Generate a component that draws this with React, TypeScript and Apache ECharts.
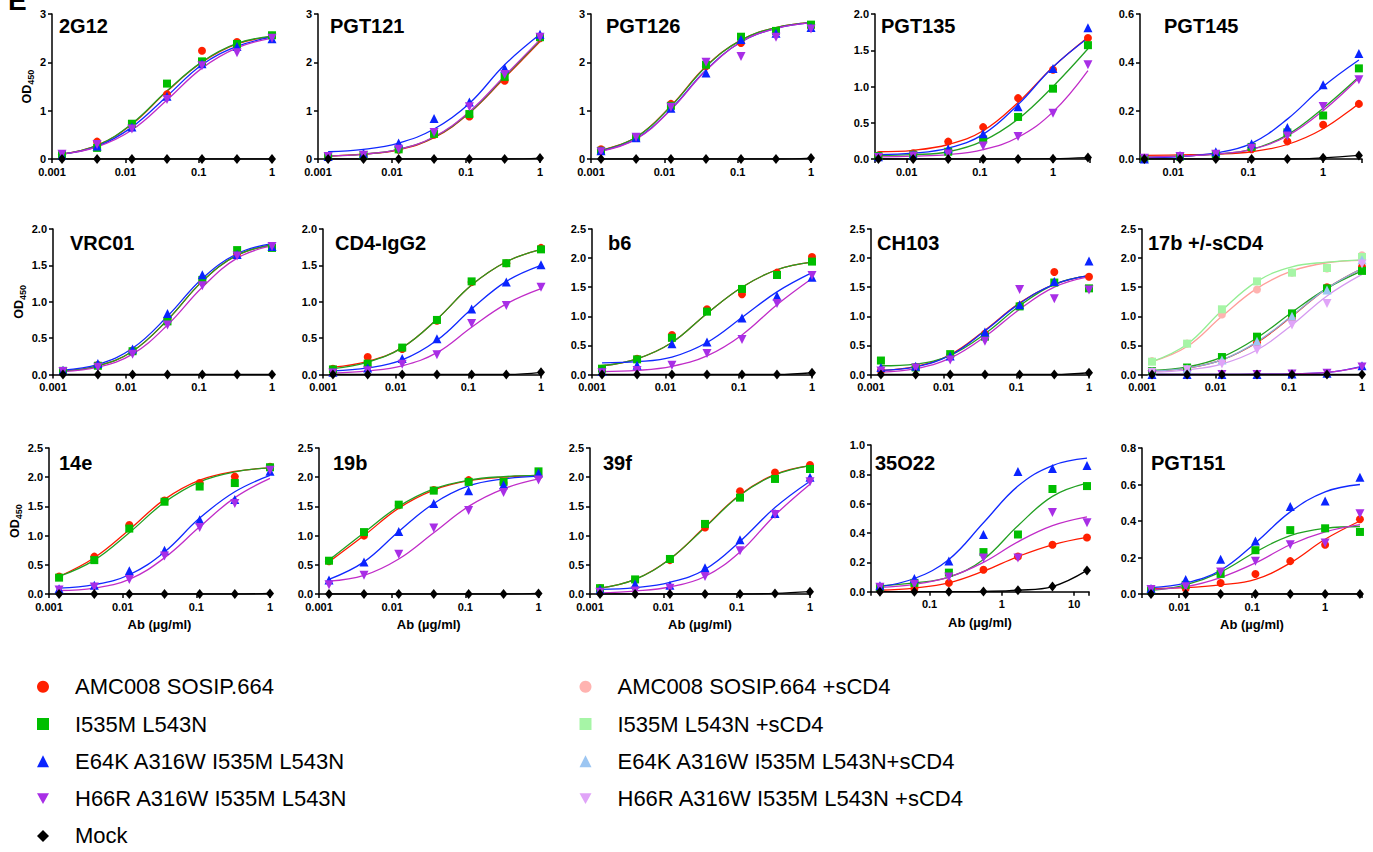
import React, { useEffect, useRef } from "react";
import * as echarts from "echarts";

// ---------- names ----------
const BASE_NAMES = [
  "AMC008 SOSIP.664",
  "I535M L543N",
  "E64K A316W I535M L543N",
  "H66R A316W I535M L543N",
  "Mock",
];
const SCD4_NAMES = [
  "AMC008 SOSIP.664 +sCD4",
  "I535M L543N +sCD4",
  "E64K A316W I535M L543N+sCD4",
  "H66R A316W I535M L543N +sCD4",
];

// ---------- doses (µg/ml, 3-fold dilutions) ----------
const DOSE_1 = [0.00137, 0.00412, 0.0123, 0.037, 0.111, 0.333, 1];
const DOSE_3 = [0.00412, 0.0123, 0.037, 0.111, 0.333, 1, 3];
const DOSE_15 = [0.0206, 0.0617, 0.185, 0.556, 1.667, 5, 15];

// ---------- measured points / fitted curve values [red, green, blue, purple, mock, (pink, lgreen, lblue, lpurple)] ----------
const PTS_2G12 = [
  [0.1, 0.36, 0.7, 1.34, 2.24, 2.42, 2.55],
  [0.08, 0.23, 0.73, 1.56, 2.02, 2.38, 2.56],
  [0.07, 0.27, 0.66, 1.3, 1.97, 2.33, 2.49],
  [0.1, 0.3, 0.62, 1.23, 1.93, 2.2, 2.5],
  [0, 0, 0, 0, 0, 0, 0],
];
const FIT_2G12 = [
  [0.1, 0.28, 0.72, 1.4, 2.0, 2.38, 2.53],
  [0.1, 0.28, 0.73, 1.41, 2.01, 2.39, 2.54],
  [0.1, 0.26, 0.66, 1.3, 1.95, 2.33, 2.52],
  [0.1, 0.25, 0.6, 1.22, 1.88, 2.3, 2.5],
  [0, 0, 0, 0, 0, 0, 0],
];
const PTS_PGT121 = [
  [0.05, 0.08, 0.19, 0.5, 0.88, 1.62, 2.5],
  [0.05, 0.08, 0.2, 0.52, 0.93, 1.7, 2.52],
  [0.05, 0.12, 0.33, 0.84, 1.18, 1.88, 2.58],
  [0.05, 0.08, 0.2, 0.55, 1.08, 1.75, 2.52],
  [0, 0, 0, 0, 0, 0, 0.02],
];
const FIT_PGT121 = [
  [0.06, 0.1, 0.19, 0.44, 0.95, 1.68, 2.43],
  [0.06, 0.1, 0.2, 0.45, 0.96, 1.7, 2.45],
  [0.15, 0.2, 0.33, 0.62, 1.15, 1.95, 2.58],
  [0.06, 0.1, 0.2, 0.46, 0.98, 1.72, 2.47],
  [0, 0, 0, 0, 0, 0, 0.02],
];
const PTS_PGT126 = [
  [0.2, 0.45, 1.14, 1.92, 2.4, 2.62, 2.73],
  [0.17, 0.45, 1.1, 1.95, 2.53, 2.65, 2.78],
  [0.17, 0.44, 1.05, 1.78, 2.47, 2.6, 2.72],
  [0.15, 0.45, 1.07, 2.0, 2.12, 2.52, 2.69],
  [0, 0, 0, 0, 0, 0, 0.02],
];
const FIT_PGT126 = [
  [0.18, 0.45, 1.1, 1.92, 2.46, 2.72, 2.82],
  [0.18, 0.45, 1.09, 1.91, 2.46, 2.72, 2.82],
  [0.17, 0.42, 1.03, 1.84, 2.42, 2.7, 2.82],
  [0.16, 0.41, 1.02, 1.83, 2.42, 2.7, 2.82],
  [0, 0, 0, 0, 0, 0, 0.02],
];
const PTS_PGT135 = [
  [0.05, 0.08, 0.24, 0.44, 0.84, 1.23, 1.67],
  [0.04, 0.06, 0.1, 0.27, 0.58, 0.97, 1.57],
  [0.03, 0.06, 0.14, 0.35, 0.72, 1.25, 1.81],
  [0.02, 0.04, 0.07, 0.18, 0.31, 0.63, 1.3],
  [0, 0, 0, 0, 0, 0.005, 0.02],
];
const FIT_PGT135 = [
  [0.1, 0.12, 0.2, 0.39, 0.78, 1.27, 1.68],
  [0.05, 0.06, 0.1, 0.25, 0.55, 1.0, 1.52],
  [0.06, 0.08, 0.15, 0.34, 0.75, 1.27, 1.67],
  [0.03, 0.04, 0.06, 0.13, 0.3, 0.65, 1.22],
  [0, 0, 0, 0, 0, 0.005, 0.02],
];
const PTS_PGT145 = [
  [0.005, 0.01, 0.02, 0.04, 0.073, 0.142, 0.228],
  [0.003, 0.01, 0.02, 0.05, 0.11, 0.18, 0.375],
  [0, 0.015, 0.03, 0.063, 0.13, 0.307, 0.437],
  [0.003, 0.01, 0.02, 0.045, 0.095, 0.217, 0.328],
  [0, 0, 0, 0, 0, 0.005, 0.015],
];
const FIT_PGT145 = [
  [0.015, 0.017, 0.02, 0.03, 0.06, 0.125, 0.23],
  [0.008, 0.012, 0.02, 0.04, 0.1, 0.21, 0.34],
  [0.005, 0.01, 0.025, 0.065, 0.165, 0.3, 0.41],
  [0.008, 0.012, 0.02, 0.04, 0.095, 0.2, 0.335],
  [0, 0, 0, 0, 0, 0.005, 0.015],
];
const PTS_VRC01 = [
  [0.05, 0.13, 0.33, 0.77, 1.27, 1.66, 1.75],
  [0.05, 0.12, 0.32, 0.73, 1.3, 1.71, 1.74],
  [0.06, 0.15, 0.35, 0.84, 1.37, 1.65, 1.76],
  [0.04, 0.1, 0.28, 0.68, 1.22, 1.63, 1.76],
  [0, 0, 0, 0, 0, 0, 0],
];
const FIT_VRC01 = [
  [0.05, 0.12, 0.32, 0.75, 1.28, 1.64, 1.78],
  [0.05, 0.12, 0.32, 0.75, 1.28, 1.64, 1.78],
  [0.06, 0.14, 0.36, 0.8, 1.32, 1.66, 1.8],
  [0.04, 0.1, 0.28, 0.68, 1.2, 1.6, 1.77],
  [0, 0, 0, 0, 0, 0, 0],
];
const PTS_CD4IGG2 = [
  [0.08, 0.24, 0.35, 0.74, 1.27, 1.53, 1.74],
  [0.07, 0.15, 0.37, 0.75, 1.28, 1.53, 1.72],
  [0.03, 0.09, 0.22, 0.49, 0.9, 1.27, 1.51],
  [0.02, 0.05, 0.14, 0.27, 0.7, 0.95, 1.2],
  [0, 0, 0, 0, 0, 0, 0.03],
];
const FIT_CD4IGG2 = [
  [0.1, 0.18, 0.37, 0.76, 1.23, 1.55, 1.72],
  [0.08, 0.17, 0.37, 0.76, 1.23, 1.55, 1.72],
  [0.05, 0.09, 0.2, 0.47, 0.9, 1.28, 1.5],
  [0.02, 0.05, 0.12, 0.3, 0.65, 0.97, 1.18],
  [0, 0, 0, 0, 0, 0, 0.03],
];
const PTS_B6 = [
  [0.1, 0.27, 0.68, 1.12, 1.38, 1.75, 2.02],
  [0.1, 0.26, 0.63, 1.08, 1.47, 1.71, 1.94],
  [0.05, 0.16, 0.53, 0.56, 0.97, 1.35, 1.67],
  [0.03, 0.07, 0.16, 0.36, 0.6, 1.22, 1.7],
  [0, 0, 0, 0, 0, 0, 0.03],
];
const FIT_B6 = [
  [0.15, 0.27, 0.55, 1.05, 1.5, 1.8, 1.93],
  [0.15, 0.27, 0.55, 1.05, 1.5, 1.8, 1.93],
  [0.2, 0.22, 0.3, 0.55, 0.98, 1.42, 1.75],
  [0.05, 0.07, 0.14, 0.32, 0.68, 1.2, 1.65],
  [0, 0, 0, 0, 0, 0, 0.03],
];
const PTS_CH103 = [
  [0.07, 0.13, 0.33, 0.7, 1.18, 1.76, 1.68],
  [0.24, 0.12, 0.35, 0.65, 1.17, 1.58, 1.48],
  [0.12, 0.14, 0.32, 0.73, 1.2, 1.6, 1.95],
  [0.06, 0.11, 0.25, 0.57, 1.46, 1.3, 1.45],
  [0, 0, 0, 0, 0, 0, 0.03],
];
const FIT_CH103 = [
  [0.07, 0.14, 0.34, 0.76, 1.23, 1.55, 1.7],
  [0.15, 0.18, 0.33, 0.7, 1.18, 1.55, 1.7],
  [0.07, 0.13, 0.33, 0.75, 1.22, 1.55, 1.7],
  [0.04, 0.1, 0.28, 0.65, 1.12, 1.5, 1.68],
  [0, 0, 0, 0, 0, 0, 0.03],
];
const PTS_17B = [
  [0.05, 0.1, 0.25, 0.55, 0.95, 1.5, 1.85],
  [0.06, 0.12, 0.3, 0.65, 1.05, 1.48, 1.78],
  [0, 0, 0, 0, 0.01, 0.02, 0.15],
  [0, 0, 0, 0, 0.01, 0.02, 0.13],
  [0, 0, 0, 0, 0, 0, 0],
  [0.23, 0.53, 1.03, 1.46, 1.75, 1.82, 2.05],
  [0.22, 0.53, 1.12, 1.6, 1.75, 1.83, 2.02],
  [0.05, 0.1, 0.25, 0.57, 1.0, 1.45, 1.97],
  [0.04, 0.08, 0.18, 0.42, 0.85, 1.22, 1.9],
];
const FIT_17B = [
  [0.06, 0.11, 0.25, 0.55, 1.0, 1.48, 1.82],
  [0.07, 0.13, 0.3, 0.63, 1.07, 1.48, 1.78],
  [0, 0, 0.002, 0.005, 0.012, 0.035, 0.14],
  [0, 0, 0.002, 0.005, 0.012, 0.035, 0.13],
  [0, 0, 0, 0, 0, 0, 0],
  [0.22, 0.48, 1.0, 1.48, 1.78, 1.92, 1.96],
  [0.22, 0.52, 1.1, 1.6, 1.85, 1.93, 1.97],
  [0.06, 0.11, 0.25, 0.56, 1.01, 1.48, 1.82],
  [0.04, 0.08, 0.18, 0.42, 0.85, 1.35, 1.72],
];
const PTS_14E = [
  [0.3, 0.64, 1.18, 1.6, 1.9, 2.01, 2.18],
  [0.28, 0.58, 1.12, 1.58, 1.84, 1.9, 2.17],
  [0.09, 0.15, 0.4, 0.75, 1.27, 1.62, 2.1],
  [0.07, 0.12, 0.25, 0.65, 1.14, 1.55, 2.12],
  [0, 0, 0, 0, 0, 0, 0.01],
];
const FIT_14E = [
  [0.3, 0.62, 1.1, 1.62, 1.95, 2.1, 2.16],
  [0.3, 0.58, 1.05, 1.57, 1.92, 2.09, 2.16],
  [0.1, 0.16, 0.33, 0.72, 1.3, 1.75, 2.03],
  [0.06, 0.1, 0.25, 0.62, 1.15, 1.65, 1.98],
  [0, 0, 0, 0, 0, 0, 0.01],
];
const PTS_19B = [
  [0.56, 1.0, 1.52, 1.78, 1.95, 1.9, 2.02],
  [0.57, 1.06, 1.53, 1.77, 1.92, 1.92, 2.1],
  [0.24, 0.55, 1.07, 1.55, 1.77, 1.87, 2.07],
  [0.16, 0.32, 0.68, 1.13, 1.43, 1.74, 1.95],
  [0, 0, 0, 0, 0, 0, 0.01],
];
const FIT_19B = [
  [0.55, 1.0, 1.47, 1.78, 1.94, 2.0, 2.03],
  [0.58, 1.05, 1.5, 1.8, 1.95, 2.01, 2.03],
  [0.25, 0.55, 1.07, 1.55, 1.85, 1.97, 2.02],
  [0.22, 0.32, 0.6, 1.05, 1.5, 1.8, 1.97],
  [0, 0, 0, 0, 0, 0, 0.01],
];
const PTS_39F = [
  [0.1, 0.24, 0.58, 1.14, 1.76, 2.08, 2.21],
  [0.1, 0.25, 0.6, 1.2, 1.65, 1.97, 2.14],
  [0.08, 0.17, 0.15, 0.45, 0.93, 1.38, 2.0],
  [0.03, 0.05, 0.1, 0.3, 0.74, 1.36, 1.92],
  [0, 0, 0, 0, 0, 0.01, 0.04],
];
const FIT_39F = [
  [0.1, 0.25, 0.6, 1.15, 1.7, 2.05, 2.2],
  [0.1, 0.25, 0.6, 1.14, 1.69, 2.04, 2.2],
  [0.08, 0.11, 0.2, 0.42, 0.9, 1.48, 1.93],
  [0.02, 0.05, 0.12, 0.3, 0.72, 1.35, 1.88],
  [0, 0, 0, 0, 0, 0.01, 0.04],
];
const PTS_35O22 = [
  [0.01, 0.02, 0.06, 0.15, 0.24, 0.32, 0.37],
  [0.03, 0.06, 0.13, 0.27, 0.39, 0.7, 0.72],
  [0.04, 0.09, 0.21, 0.39, 0.82, 0.84, 0.86],
  [0.03, 0.05, 0.1, 0.23, 0.23, 0.54, 0.47],
  [0, 0, 0, 0.002, 0.01, 0.035, 0.145],
];
const FIT_35O22 = [
  [0.01, 0.025, 0.06, 0.14, 0.24, 0.32, 0.37],
  [0.04, 0.06, 0.1, 0.22, 0.45, 0.65, 0.74],
  [0.035, 0.09, 0.22, 0.47, 0.72, 0.86, 0.91],
  [0.03, 0.05, 0.1, 0.2, 0.34, 0.45, 0.51],
  [0, 0, 0, 0.002, 0.01, 0.035, 0.145],
];
const PTS_PGT151 = [
  [0.015, 0.03, 0.06, 0.11, 0.18, 0.27, 0.41],
  [0.02, 0.05, 0.11, 0.24, 0.35, 0.36, 0.34],
  [0.03, 0.08, 0.19, 0.29, 0.48, 0.51, 0.64],
  [0.025, 0.04, 0.12, 0.18, 0.27, 0.28, 0.44],
  [0, 0, 0, 0, 0, 0, 0],
];
const FIT_PGT151 = [
  [0.03, 0.035, 0.05, 0.08, 0.17, 0.3, 0.4],
  [0.02, 0.05, 0.12, 0.23, 0.32, 0.36, 0.37],
  [0.035, 0.06, 0.13, 0.28, 0.45, 0.56, 0.6],
  [0.025, 0.04, 0.09, 0.17, 0.27, 0.34, 0.38],
  [0, 0, 0, 0, 0, 0, 0],
];

// ---------- styling ----------
const FONT = "'Liberation Sans', Arial, Helvetica, sans-serif";
const MARKER_COLORS = ["#FF2000", "#00BE00", "#0A24FF", "#A82EE6", "#000000", "#FFB3B0", "#A6F5A6", "#9CC6F2", "#E0A4F8"];
const LINE_COLORS = ["#FF1A00", "#22A022", "#1028FF", "#C02CC8", "#000000", "#FF9E9A", "#94EE94", "#8AAFD8", "#D69AF0"];
const DOWN_TRI = "path://M0,0L10,0L5,9Z";
const SYMBOLS = ["circle", "rect", "triangle", DOWN_TRI, "diamond", "circle", "rect", "triangle", DOWN_TRI];
const SYMBOL_SIZES: any[] = [8, 8, 9, 9, [8, 10], 8, 8, 9, 9];

type Panel = {
  title: string;
  dose: number[];
  pts: number[][];
  fit: number[][];
  xMin: number;
  xMax: number;
  yMax: number;
  yStep: number;
  dec: number;
  box: number[]; // left, right, top, bottom
  titlePos: number[];
  yName?: boolean;
  yNameGap?: number;
  xName?: boolean;
};

const PANELS: Panel[] = [
  { title: "2G12", dose: DOSE_1, pts: PTS_2G12, fit: FIT_2G12, xMin: 0.001, xMax: 1, yMax: 3, yStep: 1, dec: 0, box: [52, 272, 14, 159], titlePos: [59, 15], yName: true, yNameGap: 15 },
  { title: "PGT121", dose: DOSE_1, pts: PTS_PGT121, fit: FIT_PGT121, xMin: 0.001, xMax: 1, yMax: 3, yStep: 1, dec: 0, box: [318, 540, 14, 159], titlePos: [330, 15] },
  { title: "PGT126", dose: DOSE_1, pts: PTS_PGT126, fit: FIT_PGT126, xMin: 0.001, xMax: 1, yMax: 3, yStep: 1, dec: 0, box: [591, 811, 14, 159], titlePos: [606, 15] },
  { title: "PGT135", dose: DOSE_3, pts: PTS_PGT135, fit: FIT_PGT135, xMin: 0.0037, xMax: 3.2, yMax: 2, yStep: 0.5, dec: 1, box: [875, 1090, 14, 159], titlePos: [881, 15] },
  { title: "PGT145", dose: DOSE_3, pts: PTS_PGT145, fit: FIT_PGT145, xMin: 0.0036, xMax: 3.3, yMax: 0.6, yStep: 0.2, dec: 1, box: [1140, 1362, 14, 159], titlePos: [1164, 15] },

  { title: "VRC01", dose: DOSE_1, pts: PTS_VRC01, fit: FIT_VRC01, xMin: 0.001, xMax: 1, yMax: 2, yStep: 0.5, dec: 1, box: [53, 272, 229, 374.5], titlePos: [70, 232], yName: true, yNameGap: 23 },
  { title: "CD4-IgG2", dose: DOSE_1, pts: PTS_CD4IGG2, fit: FIT_CD4IGG2, xMin: 0.001, xMax: 1, yMax: 2, yStep: 0.5, dec: 1, box: [323, 541, 229, 374.5], titlePos: [335, 232] },
  { title: "b6", dose: DOSE_1, pts: PTS_B6, fit: FIT_B6, xMin: 0.001, xMax: 1, yMax: 2.5, yStep: 0.5, dec: 1, box: [592, 812, 229, 374.5], titlePos: [608, 232] },
  { title: "CH103", dose: DOSE_1, pts: PTS_CH103, fit: FIT_CH103, xMin: 0.001, xMax: 1, yMax: 2.5, yStep: 0.5, dec: 1, box: [871, 1089, 229, 374.5], titlePos: [877, 232] },
  { title: "17b +/-sCD4", dose: DOSE_1, pts: PTS_17B, fit: FIT_17B, xMin: 0.001, xMax: 1, yMax: 2.5, yStep: 0.5, dec: 1, box: [1142, 1362, 229, 374.5], titlePos: [1148, 232] },

  { title: "14e", dose: DOSE_1, pts: PTS_14E, fit: FIT_14E, xMin: 0.001, xMax: 1, yMax: 2.5, yStep: 0.5, dec: 1, box: [49, 270, 448, 594], titlePos: [59, 452], yName: true, yNameGap: 24, xName: true },
  { title: "19b", dose: DOSE_1, pts: PTS_19B, fit: FIT_19B, xMin: 0.001, xMax: 1, yMax: 2.5, yStep: 0.5, dec: 1, box: [319, 538.5, 448, 594], titlePos: [333, 452], xName: true },
  { title: "39f", dose: DOSE_1, pts: PTS_39F, fit: FIT_39F, xMin: 0.001, xMax: 1, yMax: 2.5, yStep: 0.5, dec: 1, box: [590, 810, 448, 594], titlePos: [603, 452], xName: true },
  { title: "35O22", dose: DOSE_15, pts: PTS_35O22, fit: FIT_35O22, xMin: 0.0155, xMax: 16, yMax: 1, yStep: 0.2, dec: 1, box: [871, 1089, 445, 591.7], titlePos: [875, 452], xName: true },
  { title: "PGT151", dose: DOSE_3, pts: PTS_PGT151, fit: FIT_PGT151, xMin: 0.0031, xMax: 3.2, yMax: 0.8, yStep: 0.2, dec: 1, box: [1142, 1362, 448, 594], titlePos: [1151, 452], xName: true },
];

const logLabel = (v: number) => {
  const e = Math.log10(v);
  const r = Math.round(e);
  if (Math.abs(e - r) > 1e-6) return "";
  return r < 0 ? Math.pow(10, r).toFixed(-r) : String(Math.pow(10, r));
};

function buildOption() {
  const grid: any[] = [];
  const xAxis: any[] = [];
  const yAxis: any[] = [];
  const series: any[] = [];
  const title: any[] = [];

  const axisLine = { show: true, onZero: false, lineStyle: { color: "#000", width: 1.5 } };
  const axisTick = { show: true, length: 4, lineStyle: { color: "#000", width: 1.5 } };
  const labelStyle = { color: "#000", fontWeight: "bold", fontSize: 11, fontFamily: FONT };

  PANELS.forEach((p, i) => {
    const [l, r, t, b] = p.box;
    grid.push({ left: l, top: t, width: r - l, height: b - t, containLabel: false });
    xAxis.push({
      type: "log",
      logBase: 10,
      gridIndex: i,
      min: p.xMin,
      max: p.xMax,
      axisLine,
      axisTick,
      splitLine: { show: false },
      minorTick: { show: false },
      axisLabel: { ...labelStyle, margin: 7, formatter: logLabel, showMinLabel: true, showMaxLabel: true },
      name: p.xName ? "Ab (µg/ml)" : "",
      nameLocation: "middle",
      nameGap: 24,
      nameTextStyle: { color: "#000", fontWeight: "bold", fontSize: 13, fontFamily: FONT },
    });
    yAxis.push({
      type: "value",
      gridIndex: i,
      min: 0,
      max: p.yMax,
      interval: p.yStep,
      axisLine,
      axisTick,
      splitLine: { show: false },
      axisLabel: { ...labelStyle, margin: 6, formatter: (v: number) => v.toFixed(p.dec) },
      name: p.yName ? "{a|OD}{b|450}" : "",
      nameLocation: "middle",
      nameRotate: 90,
      nameGap: p.yNameGap || 20,
      nameTextStyle: {
        color: "#000",
        fontFamily: FONT,
        rich: {
          a: { fontSize: 12.5, fontWeight: "bold", color: "#000", fontFamily: FONT, lineHeight: 15, verticalAlign: "top" },
          b: { fontSize: 9, fontWeight: "bold", color: "#000", fontFamily: FONT, lineHeight: 11, padding: [6, 0, 0, 0], verticalAlign: "bottom" },
        },
      },
    });
    title.push({
      text: p.title,
      left: p.titlePos[0],
      top: p.titlePos[1],
      padding: 0,
      textStyle: { fontSize: 20, fontWeight: "bold", color: "#000", fontFamily: FONT, lineHeight: 22 },
    });

    const names = p.pts.length > 5 ? [...BASE_NAMES, ...SCD4_NAMES] : BASE_NAMES;
    // fitted curves
    p.fit.forEach((f, j) => {
      series.push({
        type: "line",
        name: names[j],
        xAxisIndex: i,
        yAxisIndex: i,
        data: p.dose.map((x, k) => [x, f[k]]),
        smooth: 0.4,
        symbol: "none",
        showSymbol: false,
        silent: true,
        z: 2,
        lineStyle: { color: LINE_COLORS[j], width: 1.3 },
        itemStyle: { color: MARKER_COLORS[j] },
      });
    });
    // measured points
    p.pts.forEach((pt, j) => {
      series.push({
        type: "scatter",
        name: names[j],
        xAxisIndex: i,
        yAxisIndex: i,
        data: p.dose.map((x, k) => [x, pt[k]]),
        symbol: SYMBOLS[j],
        symbolSize: SYMBOL_SIZES[j],
        silent: true,
        z: j === 4 ? 5 : 3,
        itemStyle: { color: MARKER_COLORS[j], opacity: 1 },
      });
    });
  });

  const legendText = {
    fontSize: 22,
    color: "#000",
    fontFamily: FONT,
    lineHeight: 22,
    rich: { t: { fontSize: 22, color: "#000", fontFamily: FONT, lineHeight: 22, padding: [0, 0, 0, 21] } },
  };
  const legendItems = (names: string[], offset: number) =>
    names.map((n, j) => ({
      name: n,
      icon: SYMBOLS[j + offset],
      itemStyle: { color: MARKER_COLORS[j + offset], borderWidth: 0 },
    }));

  const legendBase = {
    orient: "vertical",
    top: 675.7,
    itemWidth: 12,
    itemHeight: 12,
    itemGap: 15.3,
    padding: 0,
    selectedMode: false,
    textStyle: legendText,
    formatter: (n: string) => "{t|" + n + "}",
  };
  const legend = [
    { ...legendBase, left: 37, data: legendItems(BASE_NAMES, 0) },
    { ...legendBase, left: 579.5, data: legendItems(SCD4_NAMES, 5) },
  ];

  return {
    animation: false,
    backgroundColor: "#ffffff",
    textStyle: { fontFamily: FONT },
    title,
    grid,
    xAxis,
    yAxis,
    series,
    legend,
    graphic: [
      {
        type: "text",
        x: 8,
        y: 14,
        style: { text: "E", font: "bold 28px " + FONT, fill: "#000", verticalAlign: "bottom" },
      },
    ],
  };
}

export default function App() {
  const ref = useRef<HTMLDivElement>(null);
  useEffect(() => {
    if (!ref.current) return;
    const chart = echarts.init(ref.current, null, { renderer: "svg" });
    chart.setOption(buildOption() as any);
    return () => chart.dispose();
  }, []);
  return (
    <div
      ref={ref}
      style={{ position: "absolute", left: 0, top: 0, width: 1373, height: 852, background: "#fff" }}
    />
  );
}
